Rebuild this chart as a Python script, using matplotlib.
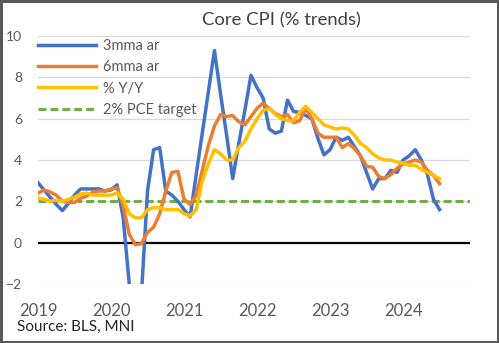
import matplotlib
matplotlib.use("Agg")
import matplotlib.pyplot as plt
from matplotlib.patches import Rectangle
from matplotlib.lines import Line2D
import numpy as np

plt.rcParams['font.family'] = ['Lato', 'DejaVu Sans']

# Monthly data, Jan 2019 .. Jul 2024
year_labels = ['2019', '2020', '2021', '2022', '2023', '2024']

mma3 = [2.9, 2.55, 2.2, 1.85, 1.55, 1.9, 2.3, 2.6, 2.6, 2.6, 2.6, 2.5,
        2.55, 2.8, 1.2, -2.0, -3.0, -2.5, 2.5, 4.5, 4.6, 2.5, 2.3, 2.0,
        1.6, 1.25, 3.3, 5.3, 7.3, 9.3, 7.2, 5.2, 3.1, 4.8, 6.4, 8.1,
        7.5, 7.0, 5.5, 5.3, 5.4, 6.9, 6.35, 6.3, 6.15, 6.0, 5.05, 4.25,
        4.5, 5.1, 4.95, 5.1, 4.65, 4.2, 3.4, 2.6, 3.1, 3.1, 3.5, 3.4,
        4.0, 4.2, 4.5, 4.0, 3.3, 2.1, 1.6]

mma6 = [2.4, 2.55, 2.45, 2.3, 2.0, 1.95, 1.95, 2.15, 2.25, 2.45, 2.5, 2.5,
        2.6, 2.65, 1.8, 0.4, -0.1, -0.05, 0.5, 0.75, 1.4, 2.5, 3.4, 3.45,
        2.1, 1.85, 2.3, 3.5, 4.7, 5.65, 6.2, 6.1, 6.15, 5.85, 5.7, 6.1,
        6.5, 6.75, 6.5, 6.25, 6.1, 6.2, 5.8, 5.9, 6.5, 6.0, 5.3, 5.1,
        5.1, 5.1, 4.6, 4.8, 4.55, 4.2, 3.7, 3.65, 3.2, 3.1, 3.3, 3.6,
        3.8, 3.9, 4.0, 3.9, 3.5, 3.25, 2.85]

yoy = [2.15, 2.1, 2.0, 2.05, 2.0, 2.1, 2.2, 2.35, 2.4, 2.3, 2.3, 2.3,
       2.3, 2.4, 2.1, 1.4, 1.2, 1.2, 1.6, 1.7, 1.7, 1.6, 1.6, 1.6,
       1.4, 1.3, 1.6, 3.0, 3.8, 4.5, 4.3, 4.0, 4.0, 4.6, 4.9, 5.5,
       6.0, 6.4, 6.5, 6.2, 6.0, 5.9, 5.9, 6.3, 6.6, 6.3, 6.0, 5.7,
       5.6, 5.5, 5.55, 5.5, 5.2, 4.8, 4.6, 4.3, 4.1, 4.0, 4.0, 3.9,
       3.85, 3.75, 3.75, 3.55, 3.4, 3.25, 3.1]

target = 2.0

months = np.arange(len(mma3))

fig = plt.figure(figsize=(4.99, 3.43), dpi=100)
ax = fig.add_axes([38/499, 1-284/343, 432/499, 248/343])

ax.set_ylim(-2, 10)
ax.set_xlim(0, 71)
ax.set_yticks(range(-2, 11, 2))
ax.set_xticks([12*i for i in range(len(year_labels))])
ax.set_xticklabels(year_labels)
ax.yaxis.grid(True, color='#D9D9D9', lw=0.9, zorder=0)
ax.set_axisbelow(True)
for s in ax.spines.values():
    s.set_visible(False)
ax.tick_params(axis='both', length=0, colors='#595959')
ax.tick_params(axis='y', labelsize=10, pad=11.5)
ax.tick_params(axis='x', labelsize=12, pad=13.5)

ax.axhline(0, color='black', lw=1.6, zorder=1)

lw = 2.5
ax.plot(months, mma3, color='#4472C4', lw=lw, zorder=3, solid_joinstyle='round')
ax.plot(months, mma6, color='#ED7D31', lw=lw, zorder=4, solid_joinstyle='round')
ax.plot(months, yoy, color='#FFC000', lw=lw, zorder=5, solid_joinstyle='round')
ax.axhline(target, color='#70AD47', lw=2.2, dashes=[2.6, 1.3], zorder=2)

handles = [Line2D([], [], color='#4472C4', lw=lw),
           Line2D([], [], color='#ED7D31', lw=lw),
           Line2D([], [], color='#FFC000', lw=lw),
           Line2D([], [], color='#70AD47', lw=2.2, dashes=[2.6, 1.3])]
labels = ['3mma ar', '6mma ar', '% Y/Y', '2% PCE target']
leg = ax.legend(handles, labels, loc='upper left', bbox_to_anchor=(0, 1 - 3/248),
                frameon=False, fontsize=10.5, borderpad=0, borderaxespad=0,
                handlelength=4.0, handletextpad=0.45, labelspacing=0.5)
for t in leg.get_texts():
    t.set_color('#595959')

fig.text(281/499, 1-20/343, 'Core CPI (% trends)', ha='center', va='center',
         fontsize=13.3, color='#404040')
fig.text(17/499, 1-327/343, 'Source: BLS, MNI', ha='left', va='center',
         fontsize=11, color='#262626')

fig.add_artist(Rectangle((0, 0), 1, 1, transform=fig.transFigure, fill=False,
                         edgecolor='#595959', lw=3.6))

fig.savefig('out.png', dpi=100)
